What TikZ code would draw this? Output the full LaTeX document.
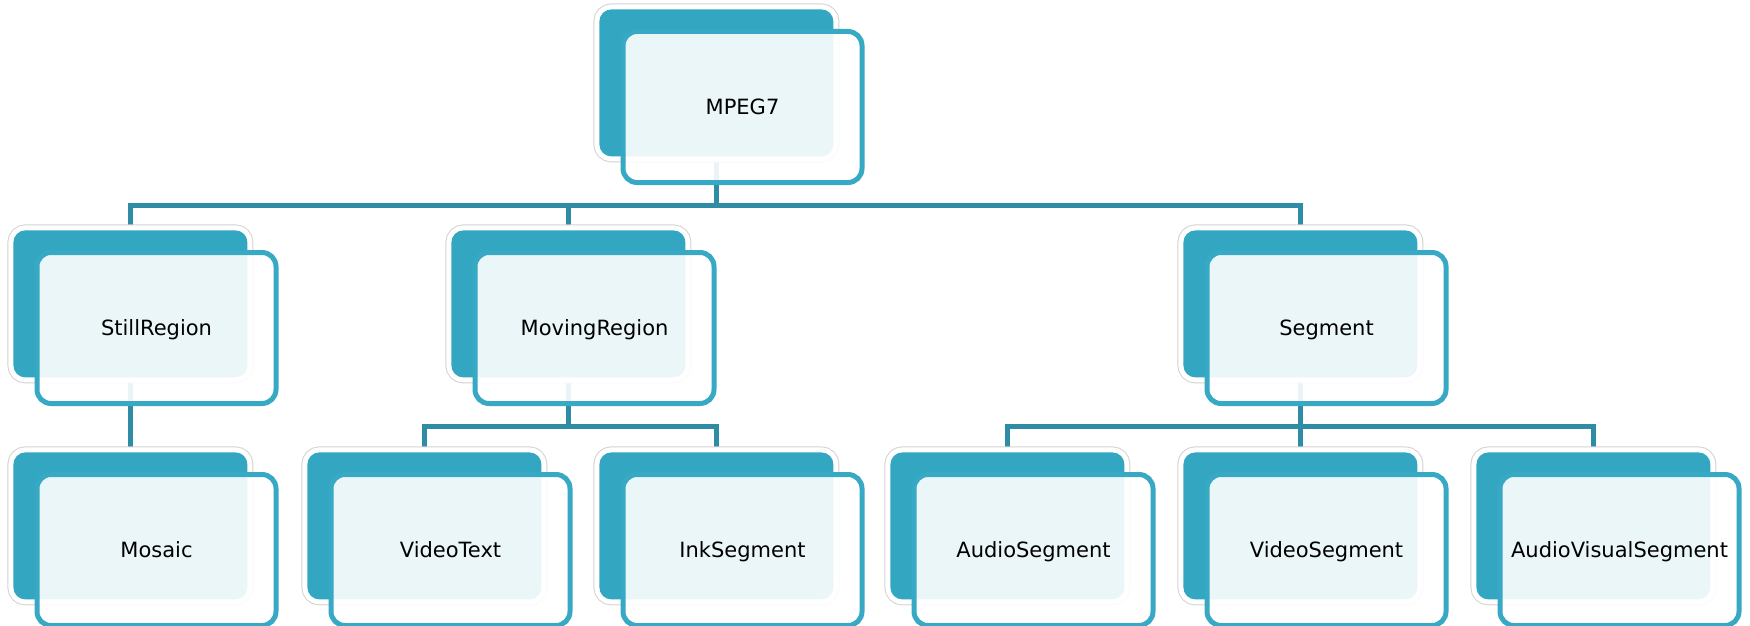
\documentclass[tikz,border=0pt]{standalone}
\usepackage{fontspec}
\setmainfont{DejaVu Sans}
\usetikzlibrary{calc}
\definecolor{tealdark}{HTML}{33A6C2}
\definecolor{tealedge}{HTML}{38A9C5}
\definecolor{teallink}{HTML}{2E8CA4}
\definecolor{ringgray}{HTML}{D2D2D2}
\tikzset{
  backbox/.style={anchor=north west, rectangle, rounded corners=6pt,
    minimum width=117pt, minimum height=73.5pt, inner sep=0pt, fill=tealdark,
    preaction={draw=ringgray, line width=0.5pt, double=white, double distance=5pt}},
  frontbox/.style={rectangle, rounded corners=7pt,
    minimum width=119.5pt, minimum height=75.5pt, inner sep=0pt,
    draw=tealedge, line width=2.5pt, fill=white, fill opacity=0.9, text opacity=1,
    font=\fontsize{10.5}{12.6}\selectfont, text=black,
    text height=7.6pt, text depth=0pt},
  link/.style={draw=teallink, line width=2.5pt}
}
% one unit = one pixel of the chart, y grows downwards;
% #1 name, #2/#3 top-left corner of the back box, #4 label
\newcommand{\orgnode}[4]{%
  \node[backbox] (#1-b) at (#2,#3) {};
  \node[frontbox] (#1) at ($(#1-b.north west)+(143.5,98)$) {#4};
}
\begin{document}
\begin{tikzpicture}[x=0.5pt,y=-0.5pt]
\useasboundingbox (0,0) rectangle (1750,626);
% levels of the horizontal bars
\coordinate (bar1) at (0,205.5);
\coordinate (bar2) at (0,426.5);
% top-left corners of the back boxes
\path
  (599,9)    coordinate (p-mpeg)
  (13,230)   coordinate (p-still)
  (451,230)  coordinate (p-moving)
  (1183,230) coordinate (p-seg)
  (13,452)   coordinate (p-mosaic)
  (307,452)  coordinate (p-vtext)
  (599,452)  coordinate (p-ink)
  (890,452)  coordinate (p-aseg)
  (1183,452) coordinate (p-vseg)
  (1476,452) coordinate (p-avseg);
% link ends: middle of the top and bottom edge of each back box
\foreach \n in {mpeg,still,moving,seg,mosaic,vtext,ink,aseg,vseg,avseg}{
  \coordinate (\n-top) at ($(p-\n)+(117,0)$);
  \coordinate (\n-bot) at ($(p-\n)+(117,147)$);
}
% links, drawn first so the boxes cover them
\draw[link] (mpeg-bot) -- (mpeg-bot |- bar1) -| (still-top);
\draw[link] (mpeg-bot |- bar1) -| (moving-top);
\draw[link] (mpeg-bot |- bar1) -| (seg-top);
\draw[link] (still-bot) -- (mosaic-top);
\draw[link] (moving-bot) -- (moving-bot |- bar2) -| (vtext-top);
\draw[link] (moving-bot |- bar2) -| (ink-top);
\draw[link] (seg-bot) -- (seg-bot |- bar2) -| (aseg-top);
\draw[link] (seg-bot |- bar2) -| (vseg-top);
\draw[link] (seg-bot |- bar2) -| (avseg-top);
% boxes
\orgnode{mpeg}{599}{9}{MPEG7}
\orgnode{still}{13}{230}{StillRegion}
\orgnode{moving}{451}{230}{MovingRegion}
\orgnode{seg}{1183}{230}{Segment}
\orgnode{mosaic}{13}{452}{Mosaic}
\orgnode{vtext}{307}{452}{VideoText}
\orgnode{ink}{599}{452}{InkSegment}
\orgnode{aseg}{890}{452}{AudioSegment}
\orgnode{vseg}{1183}{452}{VideoSegment}
\orgnode{avseg}{1476}{452}{AudioVisualSegment}
\end{tikzpicture}
\end{document}
